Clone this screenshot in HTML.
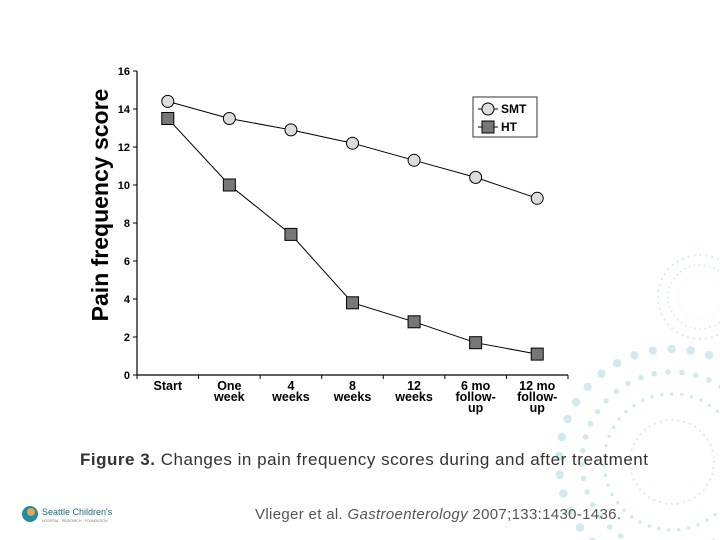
<!DOCTYPE html>
<html><head><meta charset="utf-8"><style>
html,body{margin:0;width:720px;height:540px;background:#fff;overflow:hidden;font-family:"Liberation Sans",Arial,sans-serif}
svg{position:absolute;left:0;top:0;overflow:hidden}
</style></head><body>
<svg width="720" height="540">
<g fill="none" stroke="#c9e6ec" stroke-linecap="round">
<circle cx="700" cy="297" r="22" stroke-width="1" stroke-dasharray="0 3" opacity="0.5"/>
<circle cx="700" cy="297" r="32" stroke-width="1.8" stroke-dasharray="0 5" opacity="0.8"/>
<circle cx="700" cy="297" r="42" stroke-width="2.2" stroke-dasharray="0 6" opacity="0.8"/>
<circle cx="672" cy="462" r="42" stroke-width="2.2" stroke-dasharray="0 6" opacity="0.8"/>
<circle cx="672" cy="462" r="68" stroke-width="3.5" stroke-dasharray="0 10" opacity="0.85"/>
<circle cx="672" cy="462" r="90" stroke-width="5.5" stroke-dasharray="0 14" opacity="0.85"/>
<circle cx="672" cy="462" r="113" stroke-width="8.5" stroke-dasharray="0 19" opacity="0.85"/>
</g>
<g id="chart"></g>
<text x="80" y="465" font-size="17" fill="#333" textLength="568" lengthAdjust="spacing"><tspan font-weight="bold">Figure 3.</tspan> Changes in pain frequency scores during and after treatment</text>
<text x="255" y="519" font-size="15" fill="#555" textLength="366" lengthAdjust="spacing">Vlieger et al. <tspan font-style="italic">Gastroenterology</tspan> 2007;133:1430-1436.</text>
<g>
<circle cx="30" cy="514" r="8" fill="#1e8fa0"/>
<circle cx="31" cy="512" r="4" fill="#f0a050"/>
<text x="42" y="515" font-size="9" fill="#1a6d80">Seattle Children's</text>
<text x="42" y="522" font-size="3.5" fill="#777">HOSPITAL · RESEARCH · FOUNDATION</text>
</g>
</svg>
<script>
const categories=[["Start"],["One","week"],["4","weeks"],["8","weeks"],["12","weeks"],["6 mo","follow-","up"],["12 mo","follow-","up"]];
const smt=[14.4,13.5,12.9,12.2,11.3,10.4,9.3];
const ht=[13.5,10.0,7.4,3.8,2.8,1.7,1.1];
const yTicks=[0,2,4,6,8,10,12,14,16];
const NS="http://www.w3.org/2000/svg";
const g=document.getElementById('chart');
const x0=137,x1=568,y0=375,y1=71,yMax=16;
const bw=(x1-x0)/categories.length;
const X=i=>x0+bw*(i+0.5);
const Y=v=>y0-(v/yMax)*(y0-y1);
function mk(t,a,p){const e=document.createElementNS(NS,t);for(const k in a)e.setAttribute(k,a[k]);(p||g).appendChild(e);return e;}
let ax=mk('line',{x1:x0,y1:y1,x2:x0,y2:y0,stroke:'#000','stroke-width':1.2});


let bx=mk('line',{x1:x0,y1:y0,x2:x1,y2:y0,stroke:'#000','stroke-width':1.2});


yTicks.forEach(v=>{
 mk('line',{x1:x0-4,y1:Y(v),x2:x0,y2:Y(v),stroke:'#000'});
 const t=mk('text',{x:x0-7,y:Y(v)+4,'text-anchor':'end','font-size':11,'font-weight':'bold'});
 t.textContent=v;
 
 
});
for(let k=0;k<=categories.length;k++){mk('line',{x1:x0+bw*k,y1:y0,x2:x0+bw*k,y2:y0+4,stroke:'#000'});}
categories.forEach((c,i)=>{
 c.forEach((s,j)=>{
  const t=mk('text',{x:X(i),y:y0+15+j*11,'text-anchor':'middle','font-size':12.5,'font-weight':'bold'});
  t.textContent=s;
  
  
 });
});
const yt=mk('text',{x:0,y:0,transform:'translate(108,205) rotate(-90)','text-anchor':'middle','font-size':23,'font-weight':'bold'});
yt.textContent='Pain frequency score';


function series(vals,name,shape){
 const l=mk('polyline',{points:vals.map((v,i)=>X(i)+','+Y(v)).join(' '),fill:'none',stroke:'#000','stroke-width':1});
 
 
 vals.forEach((v,i)=>{
  let m;
  if(shape==='c')m=mk('circle',{cx:X(i),cy:Y(v),r:6,fill:'#dcdcdc',stroke:'#000'});
  else m=mk('rect',{x:X(i)-6,y:Y(v)-6,width:12,height:12,fill:'#777',stroke:'#000'});
  
  
 });
}
series(smt,'smt','c');
series(ht,'ht','s');
const lg=mk('g',{});


mk('rect',{x:473,y:97,width:64,height:40,fill:'#fff',stroke:'#333'},lg);
mk('line',{x1:478,y1:109,x2:498,y2:109,stroke:'#000'},lg);
mk('circle',{cx:488,cy:109,r:6,fill:'#dcdcdc',stroke:'#000'},lg);
mk('line',{x1:478,y1:127,x2:498,y2:127,stroke:'#000'},lg);
mk('rect',{x:482,y:121,width:12,height:12,fill:'#777',stroke:'#000'},lg);
let t1=mk('text',{x:501,y:113,'font-size':12,'font-weight':'bold'},lg);t1.textContent='SMT';


let t2=mk('text',{x:501,y:131,'font-size':12,'font-weight':'bold'},lg);t2.textContent='HT';


</script>
</body></html>
